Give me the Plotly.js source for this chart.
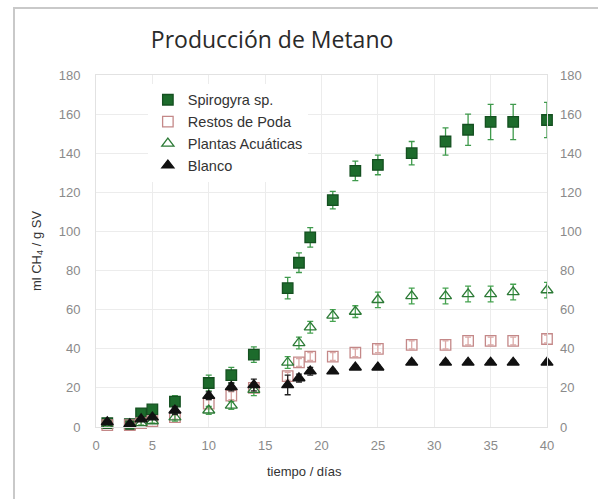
<!DOCTYPE html>
<html><head><meta charset="utf-8">
<script src="https://cdn.plot.ly/plotly-3.0.1.min.js"></script>
<style>
html,body{margin:0;padding:0;background:#fff;}
#wrap{position:relative;width:598px;height:499px;overflow:hidden;}
#chart{position:absolute;left:0;top:0;width:598px;height:499px;}
#frame{position:absolute;left:13px;top:7px;width:585px;height:492px;box-sizing:border-box;border-left:2px solid #c9c9c9;border-top:2px solid #c9c9c9;pointer-events:none;z-index:10;}
</style></head>
<body>
<div id="wrap"><div id="chart"></div><div id="frame"></div></div>
<script>
const days = [1,3,4,5,7,10,12,14,17,18,19,21,23,25,28,31,33,35,37,40];
const spirogyra = [2,1.5,7,9,13,22.5,26.5,37,71,84,97,116,131,134,140,146,152,156,156,157];
const spirogyraErr = [2,2,2,2,3,4,4,4,5.5,5,5,4.5,5,5,6,7,8,9,9,9];
const restos = [1,1,2,3,5,12,16,20,26,33,36,36,38,40,42,42,44,44,44,45];
const restosErr = [1,1,1,1,1,2,2,2,2,2,2,2,2,2,2,2,2,2,2,2];
const plantas = [1,1,2,3,5,8.5,11,19,33,43,51,57,59,65,67,67,68,68,69,70];
const plantasErr = [1,1,1,1,2,2,2,3,3,3,3,3,3,4,4,4,4,4,4,4];
const blanco = [2.5,1.5,4,5,8.5,16,20.5,21.5,21.5,25,28.5,28.5,30.5,30.5,33,33,33,33,33,33];
const blancoErr = [1,1,1,1,2,2,2,3,5,2,2,1,1,1,1,1,1,1,1,1];
const seriesNames = ['Spirogyra sp.','Restos de Poda','Plantas Acuáticas','Blanco'];
const yTicks = [0,20,40,60,80,100,120,140,160,180];
const xTicks = [0,5,10,15,20,25,30,35,40];

function tr(name, y, err, sym, fill, line, ecol){
  return {x: days, y: y, name: name, type:'scatter', mode:'markers', cliponaxis:false,
    marker:{symbol:sym, size:10.5, color:fill, line:{color:line, width:1.3}},
    error_y:{type:'data', array:err, visible:true, color:ecol, thickness:1.3, width:3}};
}
const data = [
  tr(seriesNames[0], spirogyra, spirogyraErr, 'square', '#1d6b2c', '#145020', '#3f9a4c'),
  tr(seriesNames[1], restos, restosErr, 'square-open', '#c48888', '#c48888', '#dcaaa8'),
  tr(seriesNames[2], plantas, plantasErr, 'triangle-up-open', '#2c7a36', '#2c7a36', '#46a350'),
  tr(seriesNames[3], blanco, blancoErr, 'triangle-up', '#111', '#111', '#222'),
  {x: days, y: blanco, yaxis:'y2', type:'scatter', mode:'markers', showlegend:false, hoverinfo:'skip',
   marker:{opacity:0, size:1}}
];
const axFont = {family:'Liberation Sans, Arial, sans-serif', size:13, color:'#8a8a8a'};
const layout = {
  width:598, height:499,
  margin:{l:96, r:51, t:75, b:72},
  paper_bgcolor:'#fff', plot_bgcolor:'#fff',
  showlegend:true,
  title:{text:'Producción de Metano', x:0.455, xanchor:'center', y:0.92, yanchor:'middle',
    font:{family:'Open Sans, sans-serif', size:23, color:'#2a2a2a'}},
  xaxis:{range:[0,40], tickvals:xTicks, ticktext:xTicks.map(String), showgrid:true, gridcolor:'#ececec',
    zeroline:false, showline:true, linecolor:'#e2e2e2', mirror:true, ticks:'', tickfont:axFont, ticklabelstandoff:6},
  yaxis:{range:[0,180], tickvals:yTicks, ticktext:yTicks.map(String), showgrid:true, gridcolor:'#ececec',
    zeroline:false, showline:true, linecolor:'#e2e2e2', mirror:true, ticks:'', tickfont:axFont, ticklabelstandoff:12,
    title:{text:'ml CH<sub>4</sub> / g SV', standoff:14, font:{family:'Liberation Sans, Arial, sans-serif', size:13, color:'#333'}}},
  yaxis2:{range:[0,180], tickvals:yTicks, ticktext:yTicks.map(String), overlaying:'y', side:'right', anchor:'x',
    showgrid:false, zeroline:false, showline:false, ticks:'', tickfont:axFont, ticklabelstandoff:12},
  legend:{x:0.115, xanchor:'left', y:0.975, yanchor:'top', bgcolor:'#fff', borderwidth:0,
    font:{family:'Liberation Sans, Arial, sans-serif', size:14.5, color:'#333'}, tracegroupgap:0, itemwidth:30},
  annotations:[{text:'tiempo / días', xref:'paper', yref:'paper', x:0.463, y:-0.125, xanchor:'center', yanchor:'middle',
    showarrow:false, font:{family:'Liberation Sans, Arial, sans-serif', size:13, color:'#333'}}]
};
Plotly.newPlot('chart', data, layout, {displayModeBar:false, staticPlot:true});
</script>
</body></html>
